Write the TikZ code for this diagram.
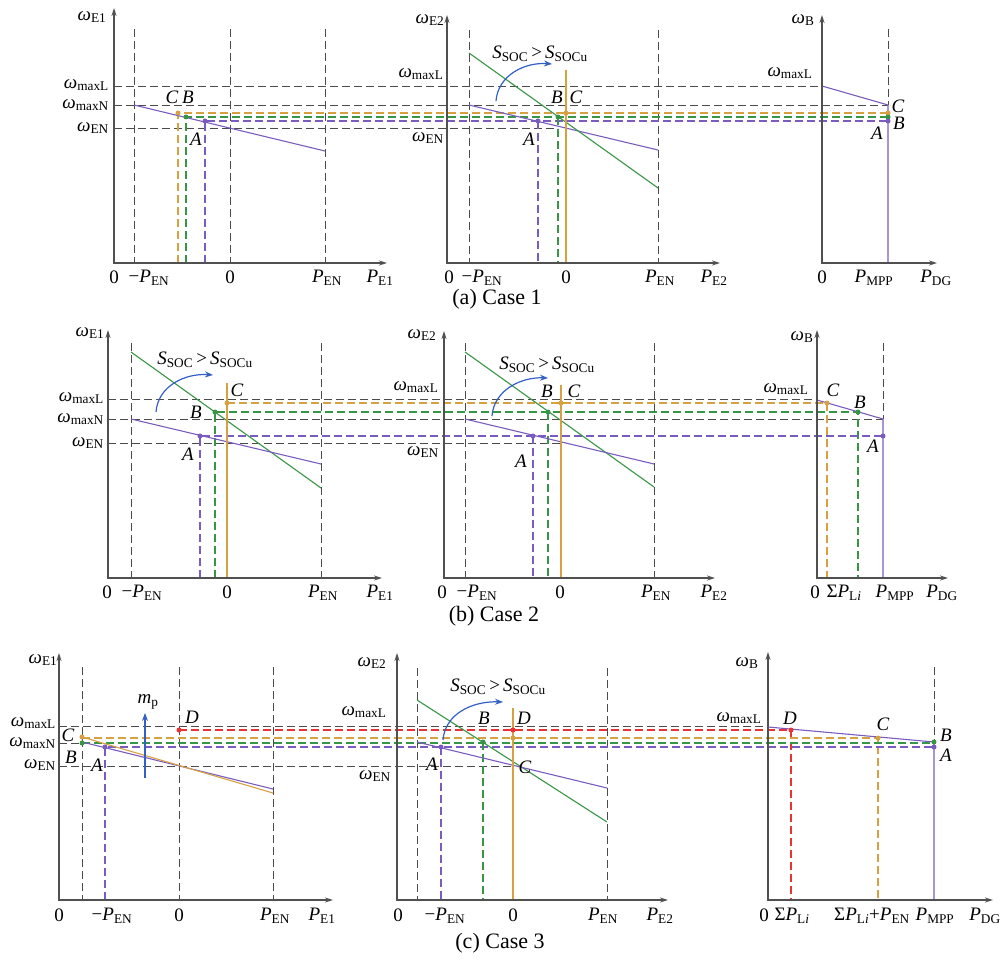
\documentclass[tikz,border=0pt]{standalone}
\usepackage{fontspec}
\setmainfont{Liberation Serif}
\usetikzlibrary{arrows.meta}
\definecolor{axg}{RGB}{80,80,80}
\definecolor{gdc}{RGB}{75,75,75}
\definecolor{ppl}{RGB}{122,92,192}
\definecolor{grn}{RGB}{55,150,70}
\definecolor{org}{RGB}{215,160,65}
\definecolor{rdd}{RGB}{235,50,50}
\definecolor{blu}{RGB}{50,95,200}
\newcommand\om[1]{\textit{ω}\textsubscript{#1}}
\newcommand\Pp[1]{\textit{P}\textsubscript{#1}}
\newcommand\ssoc{\textit{S}\textsubscript{SOC}\,>\,\textit{S}\textsubscript{SOCu}}
\newcommand\itl[1]{\textit{#1}}
\begin{document}
\begin{tikzpicture}[x=1pt,y=-1pt,
  axs/.style={draw=axg, line width=1.3pt, {Stealth[length=8pt,width=5pt]}-{Stealth[length=8pt,width=5pt]}},
  gd/.style={draw=gdc, line width=0.95pt, dash pattern=on 8pt off 4pt},
  cd/.style={line width=1.05pt, dash pattern=on 8pt off 4pt},
  sol/.style={line width=1.1pt},
  lb/.style={inner sep=0pt, font=\fontsize{19}{21}\selectfont},
  captxt/.style={inner sep=0pt, font=\fontsize{22}{24}\selectfont},
  arc/.style={draw=blu, line width=1.2pt, -{Stealth[length=8pt,width=6pt]}}]
\useasboundingbox (0,0) rectangle (1005,960);

% ================= Case 1 =================
\foreach \x in {134,230,325} \draw[gd] (\x,29)--(\x,263);
\foreach \x in {469,658} \draw[gd] (\x,30)--(\x,263);
\draw[gd] (888,29)--(888,105);
\draw[gd] (114,86)--(822,86);
\draw[gd] (114,105)--(888,105);
\draw[gd] (114,128)--(558,128);
\draw[cd,org] (178,263)--(178,113)--(888,113);
\draw[cd,grn] (186,263)--(186,117)--(888,117);
\draw[cd,ppl] (205,263)--(205,121)--(888,121);
\draw[cd,grn] (558,117)--(558,263);
\draw[cd,ppl] (538,121)--(538,263);
\draw[sol,ppl] (134,105)--(325,151);
\draw[sol,ppl] (469,105)--(658,150);
\draw[sol,grn] (469,53)--(658,188);
\draw[sol,org,line width=1.3pt] (566,70)--(566,263);
\draw[sol,ppl] (822,86)--(888,105)--(888,263);
\fill[org] (178,113) circle (2.5); \fill[grn] (186,117) circle (2.5); \fill[ppl] (205,121) circle (2.5);
\fill[org] (566,113) circle (2.5); \fill[grn] (558,117) circle (2.5); \fill[ppl] (538,121) circle (2.5);
\fill[org] (888,113) circle (2.5); \fill[grn] (888,117) circle (2.5); \fill[ppl] (888,121) circle (2.5);
\draw[arc] (496,101) .. controls (498,75) and (525,62) .. (552,64);
\draw[axs] (114,8)--(114,263)--(387,263);
\draw[axs] (447,15)--(447,263)--(720,263);
\draw[axs] (822,15)--(822,263)--(937,263);
% labels
\node[lb] (a1w) at (92,17) {\om{E1}};
\node[lb,anchor=east] (a1l) at (109,85) {\om{maxL}};
\node[lb,anchor=east] (a1n) at (109,105) {\om{maxN}};
\node[lb,anchor=east] (a1e) at (109,128) {\om{EN}};
\node[lb] (a1C) at (172,97) {\itl{C}};
\node[lb] (a1B) at (188,97) {\itl{B}};
\node[lb] (a1A) at (196,139) {\itl{A}};
\node[lb] (a1x0) at (114,277) {0};
\node[lb] (a1xm) at (149,278) {−\Pp{EN}};
\node[lb] (a1xz) at (230,277) {0};
\node[lb] (a1xp) at (327,278) {\Pp{EN}};
\node[lb] (a1xe) at (380,278) {\Pp{E1}};
\node[lb] (a2w) at (430,20) {\om{E2}};
\node[lb] (a2l) at (421,74) {\om{maxL}};
\node[lb] (a2e) at (428,138) {\om{EN}};
\node[lb] (a2s) at (540,54) {\ssoc};
\node[lb] (a2B) at (557,97) {\itl{B}};
\node[lb] (a2C) at (576,97) {\itl{C}};
\node[lb] (a2A) at (529,139) {\itl{A}};
\node[lb] (a2x0) at (449,277) {0};
\node[lb] (a2xm) at (482,278) {−\Pp{EN}};
\node[lb] (a2xz) at (566,277) {0};
\node[lb] (a2xp) at (660,278) {\Pp{EN}};
\node[lb] (a2xe) at (714,278) {\Pp{E2}};
\node[lb] (a3w) at (803,20) {\om{B}};
\node[lb] (a3l) at (790,73) {\om{maxL}};
\node[lb] (a3C) at (898,106) {\itl{C}};
\node[lb] (a3B) at (899,123) {\itl{B}};
\node[lb] (a3A) at (877,133) {\itl{A}};
\node[lb] (a3x0) at (822,277) {0};
\node[lb] (a3xp) at (874,278) {\Pp{MPP}};
\node[lb] (a3xe) at (936,278) {\Pp{DG}};
\node[captxt] (capa) at (497,299) {(a) Case 1};

% ================= Case 2 =================
\foreach \x in {131,321} \draw[gd] (\x,343)--(\x,578);
\foreach \x in {465,654} \draw[gd] (\x,343)--(\x,578);
\draw[gd] (883,343)--(883,419);
\draw[gd] (108,399)--(817,399);
\draw[gd] (108,419)--(883,419);
\draw[gd] (108,443)--(561,443);
\draw[cd,org] (227,403)--(827,403)--(827,578);
\draw[cd,grn] (215,578)--(215,412)--(858,412)--(858,578);
\draw[cd,ppl] (200,578)--(200,436)--(883,436);
\draw[cd,grn] (548,412)--(548,578);
\draw[cd,ppl] (533,436)--(533,578);
\draw[sol,grn] (131,352)--(321,488);
\draw[sol,ppl] (131,419)--(321,464);
\draw[sol,grn] (465,352)--(654,487);
\draw[sol,ppl] (465,419)--(654,464);
\draw[sol,org,line width=1.3pt] (227,383)--(227,578);
\draw[sol,org,line width=1.3pt] (561,385)--(561,578);
\draw[sol,ppl] (817,400)--(883,419)--(883,578);
\fill[org] (227,403) circle (2.5); \fill[grn] (215,412) circle (2.5); \fill[ppl] (200,436) circle (2.5);
\fill[org] (561,403) circle (2.5); \fill[grn] (548,412) circle (2.5); \fill[ppl] (533,436) circle (2.5);
\fill[org] (827,403) circle (2.5); \fill[grn] (858,412) circle (2.5); \fill[ppl] (883,436) circle (2.5);
\draw[arc] (156,412) .. controls (158,386) and (185,373) .. (213,375);
\draw[arc] (492,416) .. controls (494,390) and (521,377) .. (548,378);
\draw[axs] (108,330)--(108,578)--(382,578);
\draw[axs] (444,331)--(444,578)--(715,578);
\draw[axs] (817,330)--(817,578)--(948,578);
\node[lb] (b1w) at (90,333) {\om{E1}};
\node[lb,anchor=east] (b1l) at (104,398) {\om{maxL}};
\node[lb,anchor=east] (b1n) at (104,419) {\om{maxN}};
\node[lb,anchor=east] (b1e) at (104,443) {\om{EN}};
\node[lb] (b1s) at (205,360) {\ssoc};
\node[lb] (b1C) at (237,390) {\itl{C}};
\node[lb] (b1B) at (196,412) {\itl{B}};
\node[lb] (b1A) at (188,454) {\itl{A}};
\node[lb] (b1x0) at (107,592) {0};
\node[lb] (b1xm) at (142,593) {−\Pp{EN}};
\node[lb] (b1xz) at (227,592) {0};
\node[lb] (b1xp) at (323,593) {\Pp{EN}};
\node[lb] (b1xe) at (380,593) {\Pp{E1}};
\node[lb] (b2w) at (422,335) {\om{E2}};
\node[lb] (b2l) at (416,387) {\om{maxL}};
\node[lb] (b2e) at (423,452) {\om{EN}};
\node[lb] (b2s) at (547,365) {\ssoc};
\node[lb] (b2B) at (547,391) {\itl{B}};
\node[lb] (b2C) at (574,391) {\itl{C}};
\node[lb] (b2A) at (521,461) {\itl{A}};
\node[lb] (b2x0) at (442,592) {0};
\node[lb] (b2xm) at (477,593) {−\Pp{EN}};
\node[lb] (b2xz) at (560,592) {0};
\node[lb] (b2xp) at (656,593) {\Pp{EN}};
\node[lb] (b2xe) at (714,593) {\Pp{E2}};
\node[lb] (b3w) at (802,337) {\om{B}};
\node[lb] (b3l) at (786,389) {\om{maxL}};
\node[lb] (b3C) at (833,390) {\itl{C}};
\node[lb] (b3B) at (860,402) {\itl{B}};
\node[lb] (b3A) at (873,446) {\itl{A}};
\node[lb] (b3x0) at (815,592) {0};
\node[lb] (b3xs) at (844,593) {Σ\Pp{L\textit{i}}};
\node[lb] (b3xp) at (895,593) {\Pp{MPP}};
\node[lb] (b3xe) at (942,593) {\Pp{DG}};
\node[captxt] (capb) at (494,616) {(b) Case 2};

% ================= Case 3 =================
\foreach \x in {82,179,273} \draw[gd] (\x,667)--(\x,900);
\foreach \x in {417,607} \draw[gd] (\x,668)--(\x,900);
\draw[gd] (934,667)--(934,742);
\draw[gd] (59,726)--(768,726);
\draw[gd] (59,743)--(82,743);
\draw[gd] (59,766)--(513,766);
\draw[cd,rdd] (179,730)--(791,730)--(791,900);
\draw[cd,org] (82,738)--(878,738)--(878,900);
\draw[cd,grn] (82,743)--(934,743);
\draw[cd,ppl] (105,900)--(105,747)--(934,747);
\draw[cd,ppl] (441,747)--(441,900);
\draw[cd,grn] (483,742)--(483,900);
\draw[sol,ppl] (82,742)--(273,789);
\draw[sol,org] (82,737)--(273,793);
\draw[sol,grn] (417,700)--(607,822);
\draw[sol,ppl] (417,742)--(607,788);
\draw[sol,org,line width=1.3pt] (513,708)--(513,900);
\draw[sol,ppl] (768,727)--(934,742)--(934,900);
\fill[org] (82,737) circle (2.5); \fill[grn] (82,743) circle (2.5); \fill[ppl] (105,747) circle (2.5); \fill[rdd] (179,730) circle (2.5);
\fill[ppl] (441,747) circle (2.5); \fill[grn] (483,742) circle (2.5); \fill[org] (513,738) circle (2.5); \fill[rdd] (513,730) circle (2.5);
\fill[rdd] (791,730) circle (2.5); \fill[org] (878,738) circle (2.5); \fill[grn] (934,742) circle (2.5); \fill[ppl] (934,747) circle (2.5);
\draw[arc] (443,740) .. controls (445,714) and (472,701) .. (503,702);
\draw[draw=blu, line width=1.2pt, -{Stealth[length=8pt,width=6pt]}] (145,778)--(145,713);
\draw[axs] (59,653)--(59,900)--(333,900);
\draw[axs] (397,653)--(397,900)--(668,900);
\draw[axs] (768,652)--(768,900)--(993,900);
\node[lb] (c1w) at (43,660) {\om{E1}};
\node[lb,anchor=east] (c1l) at (56,723) {\om{maxL}};
\node[lb,anchor=east] (c1n) at (56,743) {\om{maxN}};
\node[lb,anchor=east] (c1e) at (56,765) {\om{EN}};
\node[lb] (c1m) at (148,702) {\textit{m}\textsubscript{p}};
\node[lb] (c1C) at (68,735) {\itl{C}};
\node[lb] (c1B) at (71,757) {\itl{B}};
\node[lb] (c1A) at (97,765) {\itl{A}};
\node[lb] (c1D) at (192,717) {\itl{D}};
\node[lb] (c1x0) at (59,915) {0};
\node[lb] (c1xm) at (112,916) {−\Pp{EN}};
\node[lb] (c1xz) at (179,915) {0};
\node[lb] (c1xp) at (275,916) {\Pp{EN}};
\node[lb] (c1xe) at (322,916) {\Pp{E1}};
\node[lb] (c2w) at (372,663) {\om{E2}};
\node[lb] (c2l) at (364,712) {\om{maxL}};
\node[lb] (c2e) at (375,776) {\om{EN}};
\node[lb] (c2s) at (498,687) {\ssoc};
\node[lb] (c2B) at (484,718) {\itl{B}};
\node[lb] (c2D) at (524,718) {\itl{D}};
\node[lb] (c2A) at (432,764) {\itl{A}};
\node[lb] (c2C) at (525,767) {\itl{C}};
\node[lb] (c2x0) at (398,915) {0};
\node[lb] (c2xm) at (445,916) {−\Pp{EN}};
\node[lb] (c2xz) at (513,915) {0};
\node[lb] (c2xp) at (603,916) {\Pp{EN}};
\node[lb] (c2xe) at (660,916) {\Pp{E2}};
\node[lb] (c3w) at (747,663) {\om{B}};
\node[lb] (c3l) at (739,718) {\om{maxL}};
\node[lb] (c3D) at (790,718) {\itl{D}};
\node[lb] (c3C) at (883,724) {\itl{C}};
\node[lb] (c3B) at (946,735) {\itl{B}};
\node[lb] (c3A) at (946,755) {\itl{A}};
\node[lb] (c3x0) at (764,915) {0};
\node[lb] (c3xs) at (792,916) {Σ\Pp{L\textit{i}}};
\node[lb] (c3xc) at (872,916) {Σ\Pp{L\textit{i}}+\Pp{EN}};
\node[lb] (c3xp) at (935,916) {\Pp{MPP}};
\node[lb] (c3xe) at (985,916) {\Pp{DG}};
\node[captxt] (capc) at (500,943) {(c) Case 3};
\end{tikzpicture}
\end{document}
